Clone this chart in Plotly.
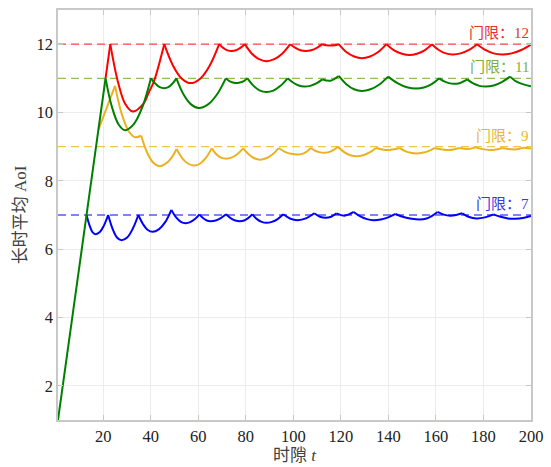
import plotly.graph_objects as go

# ---------------- data ----------------
red_t = [21, 23, 26.2, 29.3, 32.5, 36.9, 39.4, 41.3, 45.7, 49.4, 53.1, 56.8, 60.8, 64.8, 68.8,
         70.5, 72.3, 74, 75.9, 77.7, 79.6, 82.6, 85.6, 88.6, 92, 95.3, 98.7, 100.9, 103, 105.2,
         107.5, 109.9, 112.2, 113.9, 115.7, 117.4, 119.1, 122.3, 125.6, 128.8, 132.3, 135.7, 139.2,
         142.4, 145.7, 148.9, 152, 155.2, 158.3, 161.2, 164.1, 167, 170.4, 173.9, 177.3, 180.8,
         184.2, 187.7, 191.8, 195.9, 200]
red_v = [11, 12, 10.9, 10.25, 10.03, 10.25, 10.62, 10.9, 12, 11.37, 10.99, 10.86, 10.99, 11.37, 12,
         11.89, 11.82, 11.8, 11.82, 11.89, 12, 11.72, 11.56, 11.5, 11.56, 11.72, 12, 11.89, 11.82, 11.8,
         11.82, 11.89, 12, 11.97, 11.96, 11.97, 12, 11.77, 11.64, 11.59, 11.64, 11.77, 12,
         11.82, 11.72, 11.68, 11.72, 11.82, 12, 11.83, 11.73, 11.7, 11.73, 11.83, 12, 11.83,
         11.73, 11.7, 11.73, 11.83, 11.99]

green_t = [1, 21, 23.7, 26.5, 29.2, 32.8, 36.5, 40.1, 42, 43.8, 45.7, 47.4, 49.1, 50.8, 53.9, 57.1,
           60.2, 64, 67.8, 71.6, 73.1, 74.6, 76.1, 77.6, 79.2, 80.7, 83.3, 86, 88.6, 91.6, 94.6, 97.6,
           100, 102.3, 104.6, 107.1, 109.7, 112.2, 115.5, 119.1, 122.3, 125.6, 128.8, 132.5, 136.2,
           139.9, 143.8, 147.8, 151.7, 154.9, 158.2, 161.4, 163.5, 165.5, 167.6, 169.5, 171.3, 173.2,
           175.7, 178.3, 180.8, 184.3, 187.7, 191.2, 193.5, 196.5, 200]
green_v = [1, 11, 10.16, 9.65, 9.48, 9.65, 10.16, 11, 10.84, 10.74, 10.71, 10.74, 10.84, 11, 10.52, 10.23,
           10.13, 10.23, 10.52, 11, 10.92, 10.88, 10.86, 10.88, 10.92, 11, 10.78, 10.64, 10.6, 10.64, 10.78, 11,
           10.87, 10.79, 10.76, 10.78, 10.85, 10.97, 10.93, 11.07, 10.83, 10.68, 10.63, 10.68, 10.82,
           11.05, 10.86, 10.74, 10.7, 10.73, 10.83, 11, 10.91, 10.86, 10.84, 10.85, 10.9, 10.97,
           10.85, 10.78, 10.76, 10.79, 10.89, 11.05, 10.92, 10.83, 10.77]

orange_t = [18, 25, 27.8, 30.7, 33.3, 36, 38.5, 41.1, 43.6, 46, 48.5, 50.9, 53.3, 55.8, 58.2, 60.7,
            63.2, 65.7, 67.6, 69.6, 71.5, 74, 76.4, 78.9, 81.3, 83.6, 86, 88.6, 91.2, 93.8, 96.5, 99.1,
            101.8, 103.7, 105.5, 107.4, 109.2, 111, 112.9, 114.9, 116.8, 118.8, 121.4, 124, 126.7, 129.4,
            132.1, 134.8, 139.5, 144.8, 147.1, 149.4, 151.7, 154.2, 156.8, 159.3, 165.5, 170, 173.5,
            176.6, 183, 188, 193, 197, 200]
orange_v = [9.5, 10.78, 9.96, 9.46, 9.28, 9.32, 8.83, 8.53, 8.43, 8.49, 8.65, 8.93, 8.66, 8.5, 8.45, 8.5,
            8.67, 8.95, 8.78, 8.68, 8.65, 8.68, 8.78, 8.95, 8.77, 8.66, 8.62, 8.66, 8.77, 8.96, 8.85, 8.79,
            8.77, 8.79, 8.85, 8.96, 8.88, 8.84, 8.82, 8.84, 8.9, 9.0, 8.84, 8.75, 8.72, 8.75,
            8.83, 8.96, 8.9, 8.96, 8.87, 8.82, 8.8, 8.82, 8.87, 8.96, 8.9, 8.96, 8.93,
            8.98, 8.9, 8.96, 8.92, 8.97, 8.95]

blue_t = [13, 14.3, 15.5, 16.8, 18.6, 20.3, 22.1, 24, 25.8, 27.7, 30.1, 32.4, 34.8, 36.8, 38.8, 40.8,
          43.4, 46.1, 48.7, 50.7, 52.7, 54.7, 56.6, 58.6, 60.5, 62, 63.6, 65.1, 67.3, 69.5, 71.7, 73.6,
          75.6, 77.5, 79.3, 81, 82.8, 84.7, 86.7, 88.6, 91, 93.4, 95.8, 98.8, 101.8, 105.3, 108.8, 111.2,
          113.6, 115.9, 118.2, 121.5, 125.4, 128.2, 131, 133.7, 136.8, 139.9, 143, 146.4, 149.8, 153.2,
          155.7, 158.2, 160.7, 163.3, 166, 168.5, 171.1, 174, 177, 180.6, 184.2, 187.2, 190.3, 193.3,
          196.6, 200]
blue_v = [7, 6.69, 6.5, 6.44, 6.5, 6.69, 7, 6.59, 6.34, 6.26, 6.34, 6.59, 7, 6.73, 6.56, 6.51,
          6.58, 6.79, 7.15, 6.93, 6.8, 6.76, 6.79, 6.88, 7.02, 6.91, 6.84, 6.82, 6.84, 6.91, 7.02, 6.91,
          6.84, 6.82, 6.84, 6.91, 7.02, 6.88, 6.8, 6.77, 6.8, 6.88, 7.02, 6.89, 6.85, 6.9, 7.05, 6.95,
          6.92, 6.95, 7.05, 6.98, 7.09, 6.96, 6.88, 6.85, 6.87, 6.93, 7.03, 6.94, 6.89, 6.87,
          6.89, 6.97, 7.09, 7.01, 6.98, 7.0, 7.05, 6.94, 6.9, 6.93, 7.02, 6.95, 6.9, 6.89,
          6.91, 6.97]

thresholds = [12, 11, 9, 7]
threshold_labels = ["门限：12", "门限：11", "门限：9", "门限：7"]
x_ticks = [20, 40, 60, 80, 100, 120, 140, 160, 180, 200]
y_ticks = [2, 4, 6, 8, 10, 12]

# ---------------- styles ----------------
line_colors = {"blue": "#0000ff", "orange": "#edb120", "red": "#ff0000", "green": "#008000"}
dash_colors = ["rgba(255,40,40,0.85)", "rgba(130,185,70,0.9)", "rgba(240,190,60,0.9)", "rgba(60,60,240,0.85)"]
label_colors = ["#e8302a", "#7fae3e", "#eeb23a", "#3a3ae0"]
FONT = "Liberation Serif, 'Noto Sans CJK SC', serif"

fig = go.Figure()

for th, dc in zip(thresholds, dash_colors):
    fig.add_trace(go.Scatter(x=[1, 200], y=[th, th], mode="lines",
                             line=dict(color=dc, width=1.4, dash="8px,5px"),
                             hoverinfo="skip", showlegend=False))


def add_scalloped(t, v, color):
    # split at cusps (local maxima) so the arcs are smooth but the cusps stay sharp
    cuts = [0] + [i for i in range(1, len(v) - 1) if v[i] > v[i - 1] and v[i] > v[i + 1]] + [len(v) - 1]
    for a, b in zip(cuts[:-1], cuts[1:]):
        fig.add_trace(go.Scatter(x=t[a:b + 1], y=v[a:b + 1], mode="lines",
                                 line=dict(color=color, width=2, shape="spline", smoothing=1.0),
                                 hoverinfo="skip", showlegend=False))


add_scalloped(blue_t, blue_v, line_colors["blue"])
add_scalloped(orange_t, orange_v, line_colors["orange"])
add_scalloped(red_t, red_v, line_colors["red"])
add_scalloped(green_t, green_v, line_colors["green"])

for th, lab, lc in zip(thresholds, threshold_labels, label_colors):
    fig.add_annotation(x=200, y=th, xref="x", yref="y", text=lab, showarrow=False,
                       xanchor="right", yanchor="bottom", yshift=1,
                       font=dict(family=FONT, size=15, color=lc))

axis_common = dict(showline=True, linecolor="#c8c8c8", linewidth=1.5, mirror="allticks",
                   ticks="inside", ticklen=5, tickcolor="#c8c8c8", tickwidth=1,
                   showgrid=True, gridcolor="#ececec", gridwidth=1, zeroline=False,
                   tickfont=dict(family=FONT, size=16.5, color="#222222"))

fig.update_xaxes(range=[1, 200], tickvals=x_ticks, **axis_common,
                 title=dict(text="时隙 <i>t</i>", font=dict(family=FONT, size=17, color="#404040"),
                            standoff=1))
fig.update_yaxes(range=[1, 13], tickvals=y_ticks, **axis_common,
                 title=dict(text="长时平均 AoI", font=dict(family=FONT, size=17, color="#404040"),
                            standoff=6))

fig.update_layout(width=551, height=467, margin=dict(l=58, r=18, t=8, b=47),
                  plot_bgcolor="white", paper_bgcolor="white")

fig.write_html("out.html")
